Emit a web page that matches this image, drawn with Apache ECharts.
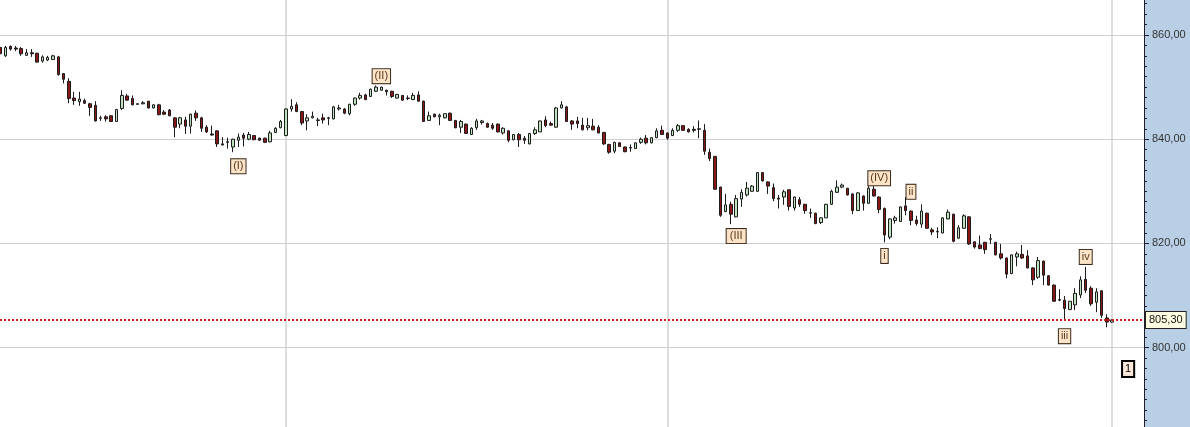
<!DOCTYPE html>
<html><head><meta charset="utf-8">
<script src="https://cdn.jsdelivr.net/npm/echarts@6/dist/echarts.min.js"></script>
<style>html,body{margin:0;padding:0;background:#fff}#c{width:1190px;height:427px}</style>
</head><body><div id="c"></div>
<script>
// ---- data ----
const opens = [857.6,856.0,857.8,857.5,857.4,856.1,856.6,856.5,855.0,855.2,
855.3,855.8,852.6,851.1,847.9,847.2,847.4,846.8,846.5,844.0,
844.3,844.5,843.4,845.9,848.3,847.8,846.8,846.8,847.3,846.0,
846.6,845.2,845.6,844.1,842.9,843.7,842.5,845.0,844.1,842.3,
841.0,841.6,839.1,839.5,838.5,839.8,840.8,840.0,840.7,840.2,
840.2,839.5,841.3,842.2,840.7,845.8,846.6,845.3,843.5,844.1,
843.7,844.1,844.0,843.9,845.8,845.8,844.9,846.7,847.9,848.5,
848.2,849.2,849.4,849.4,849.2,847.9,848.4,847.9,847.6,848.5,
847.3,843.6,844.8,844.3,844.1,845.0,843.6,842.3,842.9,840.9,
842.2,843.2,843.0,842.7,842.9,841.2,841.6,839.9,840.9,840.2,
839.1,841.1,841.4,843.7,843.0,842.3,846.0,846.2,843.5,843.5,
842.7,842.2,842.5,842.3,841.3,839.0,837.7,839.3,838.5,838.4,
838.2,839.4,840.2,839.3,840.3,841.7,841.2,840.7,841.7,842.6,
841.9,841.9,841.9,841.7,837.5,836.7,830.8,826.1,827.5,825.1,
828.5,829.3,830.0,830.0,833.6,831.8,830.7,828.7,828.9,830.3,
826.8,828.4,827.5,825.8,825.8,824.0,824.9,827.5,829.8,830.8,
830.6,829.5,826.3,829.1,827.7,830.4,828.9,826.7,821.2,824.4,
824.2,827.2,826.2,824.5,823.7,825.8,822.6,822.2,822.0,824.7,
825.6,821.0,822.9,825.1,820.3,819.7,820.2,820.8,820.2,818.0,
817.2,814.2,817.4,817.9,817.6,815.3,813.5,816.6,813.8,812.0,
809.2,809.1,807.3,808.2,810.1,813.1,811.4,808.7,810.9,805.7,
804.9];
const closes = [856.4,857.6,857.3,857.3,856.4,856.6,856.4,854.8,855.8,855.7,
856.0,852.4,851.5,847.8,847.4,847.7,846.9,846.1,843.5,844.1,
843.9,843.4,845.7,848.4,847.5,846.6,846.7,847.0,846.0,846.6,
844.7,844.8,844.5,842.3,844.1,842.5,844.8,844.1,842.1,841.4,
840.8,839.1,838.9,839.4,840.0,840.4,840.2,840.9,839.9,839.8,
839.4,841.2,842.1,843.4,845.8,846.3,845.3,843.1,844.1,844.4,
843.6,843.7,844.1,846.2,846.0,845.0,846.7,847.9,848.4,847.6,
849.6,850.0,850.0,849.1,848.2,848.6,847.5,847.8,848.4,847.3,
843.4,844.5,844.3,844.6,844.9,843.6,842.2,843.4,841.1,842.1,
843.5,843.5,842.3,842.1,841.4,842.1,839.8,840.9,839.9,839.8,
841.1,841.8,843.5,842.6,842.7,846.0,846.6,843.4,842.9,843.0,
841.8,842.6,841.8,841.2,839.1,837.5,839.4,838.6,837.6,838.3,
839.3,840.0,839.3,840.3,841.6,840.9,840.2,841.7,842.6,841.7,
841.4,841.7,842.0,837.7,836.3,830.4,825.4,827.4,825.6,828.6,
829.8,830.6,831.0,833.6,832.0,831.0,828.6,828.5,829.9,827.1,
828.9,827.5,826.3,825.9,823.8,824.9,827.5,830.0,830.8,831.2,
829.3,826.3,829.7,827.7,830.6,829.1,826.5,821.6,824.7,824.9,
827.0,826.3,824.4,823.8,826.2,822.9,822.2,822.3,824.9,826.0,
820.4,823.0,825.3,819.9,819.3,819.0,818.8,820.9,817.8,817.2,
814.1,817.8,818.0,817.2,815.3,813.0,816.7,813.9,812.0,808.9,
809.1,807.5,808.9,810.4,813.0,811.0,808.4,810.7,806.2,804.9,
805.3];
const lows = [856.0,855.8,857.0,856.9,856.0,856.0,855.8,854.7,854.7,855.0,
855.2,852.2,850.7,846.9,846.6,846.4,846.8,844.5,843.4,843.5,
843.4,843.3,843.3,845.6,847.4,846.5,846.6,846.7,845.9,845.9,
844.6,844.6,844.4,840.4,842.1,841.0,841.1,843.5,841.4,841.2,
840.7,838.5,838.8,838.2,837.5,838.5,838.6,839.8,839.8,839.7,
839.3,839.4,841.2,842.1,840.6,845.3,845.2,842.7,841.7,844.0,
842.5,843.0,842.7,843.8,845.5,844.8,844.6,846.4,847.6,847.5,
848.1,849.1,849.3,848.4,847.9,847.8,847.4,847.5,847.5,847.2,
843.3,843.6,844.2,842.7,844.0,843.6,842.1,841.2,841.0,840.9,
841.8,842.8,842.2,841.8,841.3,840.9,839.4,839.8,838.5,839.1,
839.0,840.8,841.4,842.3,842.6,842.2,845.9,843.3,841.8,842.1,
841.7,841.7,841.7,841.1,838.9,837.2,837.3,838.6,837.5,837.6,
838.2,839.1,839.0,839.2,840.2,840.8,839.9,840.6,841.4,841.7,
841.3,841.3,840.2,837.0,835.8,830.3,825.1,826.0,823.7,825.0,
827.0,829.0,829.9,829.9,831.9,829.5,828.1,826.7,827.4,826.3,
826.3,827.0,825.7,824.9,823.7,823.7,824.9,827.4,829.7,830.6,
829.2,825.6,826.3,826.3,827.6,829.0,825.8,820.2,820.8,823.8,
824.1,825.4,823.5,823.4,823.0,822.8,821.6,821.0,821.9,824.6,
820.2,820.9,822.8,819.7,819.0,818.9,818.0,819.9,817.7,816.9,
813.3,814.1,815.6,817.0,815.2,812.0,813.2,812.0,811.9,808.8,
808.9,805.4,807.2,807.2,809.5,810.5,808.0,806.8,805.7,803.9,
804.8];
const highs = [858.1,857.9,858.0,857.9,857.7,857.3,857.3,856.6,856.1,856.0,
856.2,856.0,852.7,851.7,849.1,849.1,847.8,847.0,847.3,844.5,
844.6,844.6,845.8,849.4,848.7,848.4,846.9,847.3,847.3,846.7,
846.8,845.6,845.8,844.2,844.3,844.3,844.9,845.5,844.3,842.7,
842.6,841.7,840.4,840.3,840.1,841.1,841.2,841.4,840.8,840.3,
840.3,841.6,842.3,843.7,845.9,847.7,847.1,845.4,844.8,845.3,
844.1,844.9,844.3,846.4,846.6,846.0,846.8,848.0,848.9,848.7,
849.7,850.3,850.1,849.5,849.3,848.7,848.4,848.4,848.9,849.2,
847.4,845.3,844.9,844.9,844.9,845.1,843.7,843.7,843.0,842.3,
843.9,843.7,843.2,843.1,843.0,842.3,841.7,841.0,841.2,840.6,
841.1,842.3,843.6,844.4,843.4,846.2,847.3,846.4,843.7,844.3,
844.1,844.1,843.9,842.7,841.4,839.1,839.5,839.4,838.6,839.0,
839.4,840.3,840.8,840.3,842.1,842.6,841.3,842.1,842.9,842.6,
842.1,842.5,843.6,842.9,838.2,836.8,830.9,829.5,828.0,829.3,
830.4,831.8,831.2,833.7,833.7,831.9,831.5,829.3,830.3,830.3,
829.0,828.9,827.6,826.7,825.9,825.0,827.6,830.3,832.1,831.5,
830.6,829.6,829.8,829.2,831.0,831.6,829.0,826.9,824.8,825.3,
827.1,828.9,826.3,825.3,827.5,825.9,823.0,823.1,825.0,826.5,
825.7,823.5,825.6,825.2,820.4,821.5,820.3,821.8,820.3,819.9,
817.3,817.9,818.4,819.7,818.7,815.4,817.4,816.7,813.9,812.1,
811.2,809.9,808.9,811.4,813.7,815.5,811.8,811.4,811.0,806.4,
805.4];
const barCount = 217;                       // slots on the time axis (incl. empty ones on the right)
const categories = Array.from({length: barCount}, (_, i) => String(i + 1));
const dayStarts = [54, 126, 210];          // bars where a new session begins (vertical grid lines)
const currentPrice = 805.30;
const waveNames  = ['(I)', '(II)', '(III)', '(IV)', 'i', 'ii', 'iii', 'iv', '1'];
const waveIdx    = [45, 72, 139, 166, 167, 172, 201, 205, 213];
const wavePrices = [834.8, 852.1, 821.4, 832.5, 817.6, 829.9, 802.2, 817.4, 795.9];
const yMin = 780, yMax = 880, yStep = 20;

// ---- chart ----
const fmt = v => v.toFixed(2).replace('.', ',');
const ohlc = opens.map((o, i) => [o, closes[i], lows[i], highs[i]]);
const baseLabel = {
  show: true, position: 'inside', formatter: '{b}', fontSize: 11,
  fontFamily: 'Liberation Sans, Arial, sans-serif', color: '#5a3a1e',
  backgroundColor: '#fde3c8', borderColor: '#3b2a1a', borderWidth: 1,
  padding: [1, 2, 0, 2], lineHeight: 13
};
const markPts = waveNames.map((n, i) => {
  const item = { name: n, coord: [waveIdx[i], wavePrices[i]], label: Object.assign({}, baseLabel) };
  if (n === '(III)') Object.assign(item.label, { width: 15, overflow: 'truncate', ellipsis: '' });
  if (n === '1') Object.assign(item.label, { color: '#000', borderColor: '#000', borderWidth: 2, backgroundColor: '#fde9dc' });
  return item;
});

const chart = echarts.init(document.getElementById('c'));
chart.setOption({
  animation: false,
  backgroundColor: '#ffffff',
  graphic: [{ type: 'rect', silent: true, z: -10,
    shape: { x: 1144, y: 0, width: 46, height: 427 }, style: { fill: '#b8cfe6' } }],
  grid: { left: 0, right: 46, top: -69.2, height: 521, containLabel: false, outerBoundsMode: 'none' },
  xAxis: {
    type: 'category', data: categories, boundaryGap: false,
    axisLine: { show: false }, axisTick: { show: false }, axisLabel: { show: false },
    splitLine: { show: true, interval: (i) => dayStarts.indexOf(i) >= 0,
      lineStyle: { color: '#d2d2d2', width: 1.5 } }
  },
  yAxis: {
    type: 'value', position: 'right', min: yMin, max: yMax, interval: yStep,
    axisLine: { show: true, lineStyle: { color: '#1e1e2a', width: 1 } },
    axisTick: { show: true, length: 5, lineStyle: { color: '#1e1e2a' } },
    minorTick: { show: true, splitNumber: 10, length: 3, lineStyle: { color: '#1e1e2a' } },
    axisLabel: { margin: 8, fontSize: 11, color: '#333', fontFamily: 'Liberation Sans, Arial, sans-serif', formatter: fmt },
    splitLine: { show: true, lineStyle: { color: '#cfcfcf', width: 1 } }
  },
  series: [{
    type: 'candlestick', data: ohlc, barWidth: 3,
    itemStyle: { color: '#bfe2bf', color0: '#8b1616', borderColor: '#1c1c1c', borderColor0: '#1c1c1c', borderWidth: 1 },
    markLine: {
      silent: true, symbol: ['none', 'none'], animation: false,
      data: [{ yAxis: currentPrice,
        lineStyle: { color: '#d01e1e', type: 'dotted', width: 2 },
        label: { show: true, position: 'end', distance: 2, formatter: fmt(currentPrice),
          fontSize: 11, fontFamily: 'Liberation Sans, Arial, sans-serif', color: '#111',
          backgroundColor: '#ffffe4', borderColor: '#222', borderWidth: 1, padding: [3, 3, 2, 3] } }]
    },
    markPoint: {
      silent: true, animation: false, symbol: 'rect', symbolSize: 1,
      itemStyle: { color: 'rgba(0,0,0,0)' }, label: baseLabel, data: markPts
    }
  }]
});
</script></body></html>
